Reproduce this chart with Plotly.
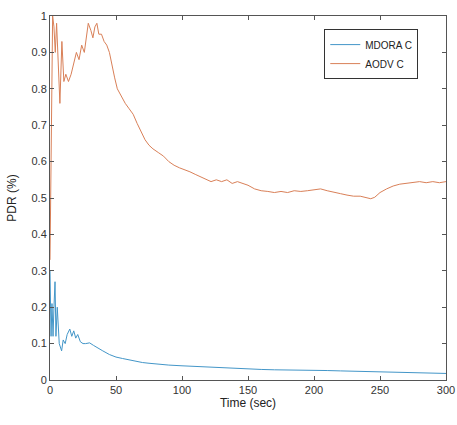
import plotly.graph_objects as go

# Time (sec) and PDR values
aodv_t = [0, 1, 2, 3, 4, 5, 6, 7.5, 9, 10.5, 12, 14, 16, 18, 20, 22, 24, 26, 28, 29,
          31, 32.5, 34, 35.5, 37, 39, 41, 43, 45, 47, 49, 51, 54, 57, 60, 63, 66,
          69, 72, 75, 78, 82, 86, 90, 94, 98, 102, 106, 110, 114, 118, 122, 126,
          130, 134, 138, 142, 146, 150, 155, 160, 165, 170, 175, 180, 185, 190,
          195, 200, 205, 210, 215, 220, 225, 230, 235, 240, 243, 246, 250, 255,
          260, 265, 270, 275, 280, 285, 290, 295, 300]
aodv_v = [0.33, 0.75, 1.0, 0.97, 0.9, 0.98, 0.88, 0.76, 0.93, 0.82, 0.84, 0.82, 0.84, 0.87,
          0.9, 0.88, 0.92, 0.9, 0.95, 0.98, 0.96, 0.94, 0.97, 0.98, 0.95, 0.95, 0.93,
          0.92, 0.9, 0.86, 0.83, 0.8, 0.78, 0.76, 0.745, 0.73, 0.705, 0.68, 0.66,
          0.645, 0.635, 0.625, 0.615, 0.6, 0.59, 0.583, 0.578, 0.572, 0.565, 0.558,
          0.552, 0.545, 0.55, 0.545, 0.55, 0.54, 0.545, 0.54, 0.535, 0.525, 0.52,
          0.518, 0.515, 0.518, 0.515, 0.52, 0.518, 0.52, 0.522, 0.525, 0.52,
          0.515, 0.512, 0.508, 0.505, 0.505, 0.5, 0.498, 0.502, 0.515, 0.525,
          0.533, 0.538, 0.54, 0.542, 0.545, 0.542, 0.545, 0.542, 0.545]

mdora_t = [0, 0.8, 1.5, 2.3, 3, 3.8, 4.5, 5.5, 7, 8.8, 10, 11.5, 13, 15, 16.5, 18,
           19.5, 21, 23, 25, 27, 30, 33, 36, 40, 45, 50, 55, 60, 65, 70, 75, 80,
           90, 100, 110, 120, 130, 140, 150, 160, 170, 180, 190, 200, 210, 220,
           230, 240, 250, 260, 270, 280, 290, 300]
mdora_v = [0.3, 0.12, 0.21, 0.12, 0.2, 0.27, 0.12, 0.2, 0.1, 0.08, 0.11, 0.1, 0.125,
           0.14, 0.12, 0.135, 0.115, 0.125, 0.105, 0.1, 0.1, 0.102, 0.095, 0.088,
           0.08, 0.07, 0.063, 0.059, 0.055, 0.051, 0.048, 0.046, 0.044, 0.041,
           0.039, 0.037, 0.035, 0.033, 0.032, 0.03, 0.029, 0.028, 0.028, 0.027,
           0.027, 0.026, 0.025, 0.024, 0.023, 0.022, 0.021, 0.02, 0.019, 0.019,
           0.018]

y_ticks = [0, 0.1, 0.2, 0.3, 0.4, 0.5, 0.6, 0.7, 0.8, 0.9, 1]
y_labels = ["0", "0.1", "0.2", "0.3", "0.4", "0.5", "0.6", "0.7", "0.8", "0.9", "1"]
x_ticks = [0, 50, 100, 150, 200, 250, 300]

fig = go.Figure()
fig.add_trace(go.Scatter(x=mdora_t, y=mdora_v, mode="lines", name="MDORA C",
                         line=dict(color="#4396c8", width=1)))
fig.add_trace(go.Scatter(x=aodv_t, y=aodv_v, mode="lines", name="AODV C",
                         line=dict(color="#d98058", width=1)))

axis_style = dict(
    showline=True, linecolor="#555555", linewidth=1, mirror="ticks",
    ticks="inside", ticklen=4, tickcolor="#555555", showgrid=False,
    zeroline=False, automargin=False, tickfont=dict(size=11, color="#333333"),
)
fig.update_layout(
    width=457, height=425,
    margin=dict(l=50, r=11, t=16, b=45),
    paper_bgcolor="white", plot_bgcolor="white",
    font=dict(family="Liberation Sans, Arial, sans-serif", color="#222222"),
    xaxis=dict(range=[0, 300], tickvals=x_ticks,
               title=dict(text="Time (sec)", font=dict(size=12), standoff=0),
               **axis_style),
    yaxis=dict(range=[0, 1], tickvals=y_ticks, ticktext=y_labels,
               title=dict(text="PDR (%)", font=dict(size=12), standoff=12),
               **axis_style),
    legend=dict(x=0.93, y=0.964, xanchor="right", yanchor="top",
                bordercolor="#333333", borderwidth=1, bgcolor="white",
                font=dict(size=10), itemwidth=30, tracegroupgap=0),
    showlegend=True,
)

# drop the default body margin so the figure fills the window exactly
fig.write_html("out.html", config={"displayModeBar": False},
               post_script="document.body.style.margin='0';document.body.style.overflow='hidden';")
